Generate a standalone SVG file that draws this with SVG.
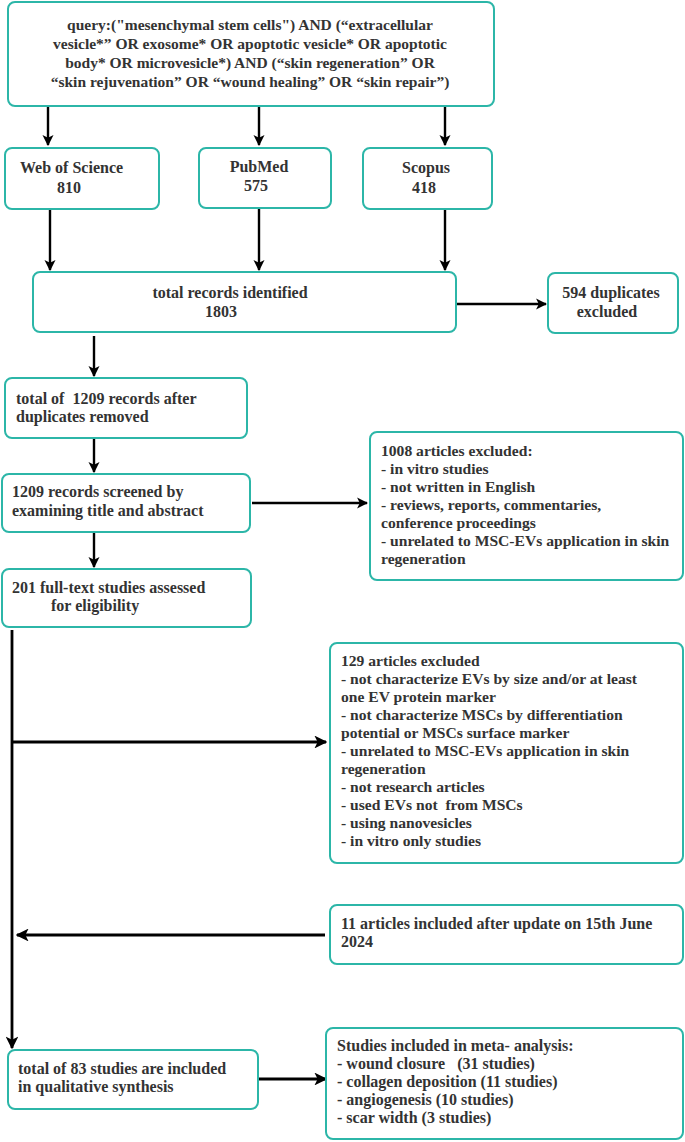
<svg xmlns="http://www.w3.org/2000/svg" width="685" height="1142" viewBox="0 0 685 1142">
<style>
.box{fill:#fff;stroke:#2cb6a8;stroke-width:2}
text{font-family:"Liberation Serif","Times New Roman",serif;font-weight:bold;font-size:16px;fill:#333}
.q{font-size:15.5px}
.s{font-size:15.6px}
.c{text-anchor:middle}
.ln{stroke:#000;stroke-width:2.4;fill:none}
</style>
<defs>
<marker id="ah" viewBox="0 0 10 10" refX="9" refY="5" markerWidth="4.6" markerHeight="4.6" orient="auto" markerUnits="strokeWidth">
<path d="M0,0 L10,5 L0,10 L2.5,5 Z" fill="#000"/>
</marker>
</defs>
<rect width="685" height="1142" fill="#fff"/>
<g id="connectors">
<line class="ln" x1="48" y1="107" x2="48" y2="145" marker-end="url(#ah)"/>
<line class="ln" x1="259" y1="107" x2="259" y2="145" marker-end="url(#ah)"/>
<line class="ln" x1="445" y1="107" x2="445" y2="145" marker-end="url(#ah)"/>
<line class="ln" x1="50" y1="210" x2="50" y2="270" marker-end="url(#ah)"/>
<line class="ln" x1="259" y1="209" x2="259" y2="270" marker-end="url(#ah)"/>
<line class="ln" x1="445" y1="210" x2="445" y2="270" marker-end="url(#ah)"/>
<line class="ln" x1="456" y1="304" x2="546" y2="304" marker-end="url(#ah)"/>
<line class="ln" x1="94" y1="336" x2="94" y2="376" marker-end="url(#ah)"/>
<line class="ln" x1="94" y1="439" x2="94" y2="472" marker-end="url(#ah)"/>
<line class="ln" x1="252" y1="503" x2="367" y2="503" marker-end="url(#ah)"/>
<line class="ln" x1="94" y1="533" x2="94" y2="567" marker-end="url(#ah)"/>
<line class="ln" x1="12" y1="630" x2="12" y2="1048" marker-end="url(#ah)" style="stroke-width:2.8"/>
<line class="ln" x1="12" y1="742" x2="326" y2="742" marker-end="url(#ah)" style="stroke-width:2.8"/>
<line class="ln" x1="325" y1="935" x2="17" y2="935" marker-end="url(#ah)" style="stroke-width:2.8"/>
<line class="ln" x1="259" y1="1079" x2="326" y2="1079" marker-end="url(#ah)" style="stroke-width:2.8"/>
</g>
<g id="query">
<rect class="box" x="8" y="2" width="486" height="104" rx="7"/>
<text class="q c" x="250" y="30">query:("mesenchymal stem cells") AND (“extracellular</text>
<text class="q c" x="250" y="49">vesicle*” OR exosome* OR apoptotic vesicle* OR apoptotic</text>
<text class="q c" x="250" y="68">body* OR microvesicle*) AND (“skin regeneration” OR</text>
<text class="q c" x="250" y="87">“skin rejuvenation” OR “wound healing” OR “skin repair”)</text>
</g>
<g id="wos">
<rect class="box" x="5" y="148" width="154" height="61" rx="7"/>
<text x="20" y="173" font-size="16.6">Web of Science</text>
<text x="57" y="193" font-size="16.6">810</text>
</g>
<g id="pubmed">
<rect class="box" x="199" y="148" width="132" height="60" rx="7"/>
<text class="c" x="259" y="172" font-size="16.6">PubMed</text>
<text x="244" y="191" font-size="16.6">575</text>
</g>
<g id="scopus">
<rect class="box" x="363" y="148" width="129" height="61" rx="7"/>
<text class="c" x="426" y="173" font-size="16.6">Scopus</text>
<text x="412" y="193" font-size="16.6">418</text>
</g>
<g id="total">
<rect class="box" x="33" y="272" width="423" height="60" rx="7"/>
<text class="c" x="230" y="298" font-size="17">total records identified</text>
<text class="c" x="221" y="317" font-size="17">1803</text>
</g>
<g id="dup">
<rect class="box" x="548" y="273" width="130" height="60" rx="7"/>
<text class="c" x="611" y="298" font-size="17">594 duplicates</text>
<text class="c" x="607" y="317" font-size="17">excluded</text>
</g>
<g id="after">
<rect class="box" x="5" y="378" width="242" height="60" rx="7"/>
<text x="16" y="404" font-size="17" xml:space="preserve">total of  1209 records after</text>
<text x="16" y="422" font-size="17">duplicates removed</text>
</g>
<g id="screened">
<rect class="box" x="2" y="474" width="248" height="58" rx="7"/>
<text x="12" y="497">1209 records screened by</text>
<text x="12" y="516">examining title and abstract</text>
</g>
<g id="excl1008">
<rect class="box" x="370" y="432" width="313" height="148" rx="7"/>
<text class="s" x="381" y="456">1008 articles excluded:</text>
<text class="s" x="381" y="474">- in vitro studies</text>
<text class="s" x="381" y="492">- not written in English</text>
<text class="s" x="381" y="510">- reviews, reports, commentaries,</text>
<text class="s" x="381" y="528">conference proceedings</text>
<text class="s" x="381" y="546">- unrelated to MSC-EVs application in skin</text>
<text class="s" x="381" y="564">regeneration</text>
</g>
<g id="fulltext">
<rect class="box" x="2" y="569" width="249" height="58" rx="7"/>
<text x="12" y="593">201 full-text studies assessed</text>
<text x="51" y="611">for eligibility</text>
</g>
<g id="excl129">
<rect class="box" x="330" y="643" width="353" height="220" rx="7"/>
<text class="s" x="341" y="666">129 articles excluded</text>
<text class="s" x="341" y="684">- not characterize EVs by size and/or at least</text>
<text class="s" x="341" y="702">one EV protein marker</text>
<text class="s" x="341" y="720">- not characterize MSCs by differentiation</text>
<text class="s" x="341" y="738">potential or MSCs surface marker</text>
<text class="s" x="341" y="756">- unrelated to MSC-EVs application in skin</text>
<text class="s" x="341" y="774">regeneration</text>
<text class="s" x="341" y="792">- not research articles</text>
<text class="s" x="341" y="810" xml:space="preserve">- used EVs not  from MSCs</text>
<text class="s" x="341" y="828">- using nanovesicles</text>
<text class="s" x="341" y="846">- in vitro only studies</text>
</g>
<g id="update">
<rect class="box" x="330" y="905" width="353" height="59" rx="7"/>
<text x="341" y="929">11 articles included after update on 15th June</text>
<text x="341" y="947">2024</text>
</g>
<g id="qualitative">
<rect class="box" x="8" y="1050" width="250" height="59" rx="7"/>
<text x="18" y="1074">total of 83 studies are included</text>
<text x="18" y="1092">in qualitative synthesis</text>
</g>
<g id="meta">
<rect class="box" x="326" y="1028" width="357" height="111" rx="7"/>
<text x="337" y="1051">Studies included in meta- analysis:</text>
<text x="337" y="1069" xml:space="preserve">- wound closure   (31 studies)</text>
<text x="337" y="1087">- collagen deposition (11 studies)</text>
<text x="337" y="1105">- angiogenesis (10 studies)</text>
<text x="337" y="1123">- scar width (3 studies)</text>
</g>
</svg>
